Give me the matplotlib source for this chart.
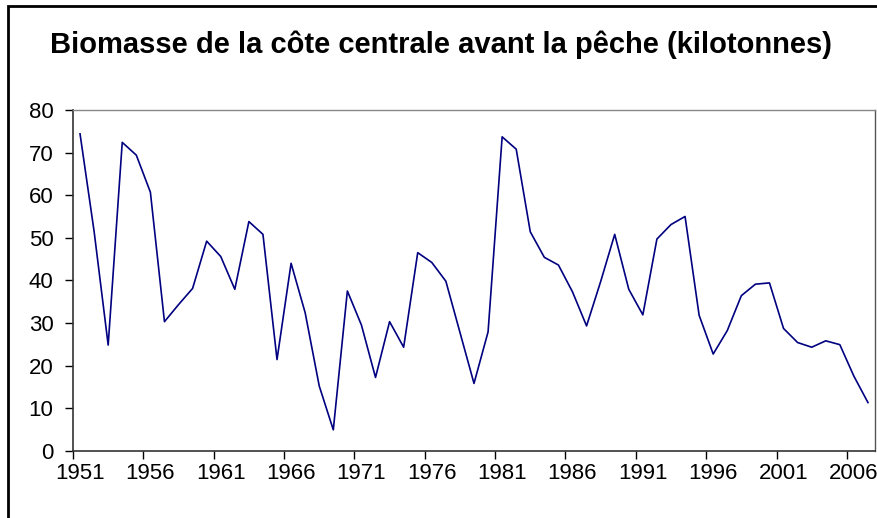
import matplotlib
matplotlib.use("Agg")
import matplotlib.pyplot as plt
from matplotlib.patches import Rectangle

years = list(range(1951, 2008))
biomass = [74.4, 51.5, 24.8, 72.4, 69.4, 60.7, 30.3, 34.3, 38.1, 49.2,
           45.6, 37.9, 53.8, 50.8, 21.4, 44.0, 32.4, 15.2, 4.9, 37.5,
           29.5, 17.2, 30.3, 24.3, 46.5, 44.2, 39.8, 27.8, 15.8, 27.9,
           73.7, 70.8, 51.4, 45.4, 43.6, 37.3, 29.3, 39.7, 50.8, 37.9,
           31.9, 49.7, 53.1, 55.0, 31.8, 22.7, 28.2, 36.4, 39.1, 39.4,
           28.7, 25.4, 24.3, 25.8, 24.9, 17.5, 11.3]
year_labels = [str(y) for y in range(1951, 2007, 5)]
title = "Biomasse de la côte centrale avant la pêche (kilotonnes)"

plt.rcParams['font.family'] = ['Liberation Sans', 'DejaVu Sans']

W, H = 878, 518
fig = plt.figure(figsize=(W / 100, H / 100), dpi=100)

# outer frame of the chart (runs off the right and bottom edges)
fig.patches.append(Rectangle((8 / W, -0.1), 1.2, (H - 6) / H + 0.1,
                             transform=fig.transFigure, fill=False,
                             edgecolor='black', linewidth=2))

ax = fig.add_axes([73 / W, (H - 450.7) / H, (875 - 73) / W, (450.7 - 110) / H])
ax.plot(years, biomass, color='#000080', linewidth=1.2)

ax.set_xlim(1950.5, 2007.5)
ax.set_ylim(0, 80)
ax.set_yticks(range(0, 81, 10))

# tick marks sit between categories, labels on the categories
ax.set_xticks([1950.5 + 5 * k for k in range(12)])
ax.set_xticklabels([])
ax.set_xticks(range(1951, 2007, 5), minor=True)
ax.set_xticklabels(year_labels, minor=True)
ax.tick_params(axis='x', which='minor', length=0, pad=9, labelsize=16)
ax.tick_params(axis='x', which='major', length=6, width=1, direction='out')
ax.tick_params(axis='y', length=6, width=1, direction='out', pad=8, labelsize=16)

for side in ['left', 'bottom']:
    ax.spines[side].set_color('#333333')
    ax.spines[side].set_linewidth(1.2)
ax.spines['top'].set_color('#888888')
ax.spines['right'].set_color('#555555')
ax.spines['top'].set_linewidth(1.0)
ax.spines['right'].set_linewidth(1.0)

fig.text(441 / W, 1 - 45 / H, title, ha='center', va='center',
         fontsize=21, fontweight='bold')

fig.savefig("out.png", dpi=100)
